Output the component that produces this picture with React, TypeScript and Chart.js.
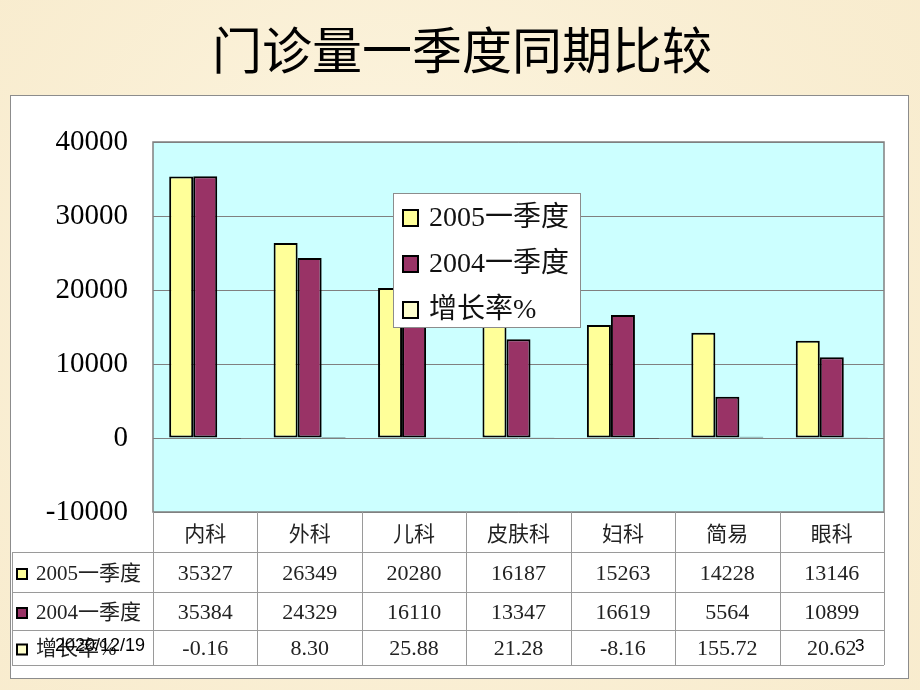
import React, { useEffect, useRef } from "react";
import { Chart, registerables } from "chart.js";

Chart.register(...registerables);

const TITLE = "门诊量一季度同期比较";
const categories = ["内科", "外科", "儿科", "皮肤科", "妇科", "简易", "眼科"];
const seriesLabels = ["2005一季度", "2004一季度", "增长率%"];
const series2005 = [35327, 26349, 20280, 16187, 15263, 14228, 13146];
const series2004 = [35384, 24329, 16110, 13347, 16619, 5564, 10899];
const growthRate = [-0.16, 8.3, 25.88, 21.28, -8.16, 155.72, 20.62];
const yTicks = [-10000, 0, 10000, 20000, 30000, 40000];
const footerDate = "2020/12/19";
const pageNumber = "3";

const seriesColors = ["#FFFF99", "#993366", "#FFFFCC"];

const CJK = '"Noto Sans CJK SC", sans-serif';
const SERIF = '"Liberation Serif", "DejaVu Serif", serif';
const MIXED = '"Liberation Serif", "Noto Sans CJK SC", serif';

const decorPlugin = {
  id: "decor",
  beforeDraw(chart: any) {
    const ctx = chart.ctx as CanvasRenderingContext2D;
    const W = chart.width;
    const H = chart.height;
    ctx.save();
    // parchment background
    ctx.fillStyle = "#F9EED2";
    ctx.fillRect(0, 0, W, H);
    const g = ctx.createRadialGradient(W * 0.4, H * 0.35, 60, W * 0.5, H * 0.5, W * 0.75);
    g.addColorStop(0, "rgba(255,250,235,0.5)");
    g.addColorStop(1, "rgba(245,228,192,0.3)");
    ctx.fillStyle = g;
    ctx.fillRect(0, 0, W, H);
    // white panel
    ctx.fillStyle = "#FFFFFF";
    ctx.fillRect(10, 95, 898, 583);
    ctx.strokeStyle = "#8C8C8C";
    ctx.lineWidth = 1;
    ctx.strokeRect(10.5, 95.5, 898, 583);
    // plot background
    const ca = chart.chartArea;
    ctx.fillStyle = "#CCFFFF";
    ctx.fillRect(ca.left, ca.top, ca.right - ca.left, ca.bottom - ca.top);
    // title
    ctx.fillStyle = "#000000";
    ctx.font = `50px ${CJK}`;
    ctx.textAlign = "center";
    ctx.textBaseline = "middle";
    ctx.fillText(TITLE, 462, 50);
    ctx.restore();
  },
  afterDraw(chart: any) {
    const ctx = chart.ctx as CanvasRenderingContext2D;
    const ca = chart.chartArea;
    const xs = chart.scales.x;
    ctx.save();
    // plot border
    ctx.strokeStyle = "#808080";
    ctx.lineWidth = 1.5;
    ctx.strokeRect(ca.left, ca.top, ca.right - ca.left, ca.bottom - ca.top);

    // data table
    const n = categories.length;
    const cw = (ca.right - ca.left) / n;
    const top = ca.bottom;
    const rowY = [top, top + 40, top + 80, top + 118, top + 153];
    const tableLeft = 12;
    ctx.strokeStyle = "#9A9A9A";
    ctx.lineWidth = 1;
    for (let i = 0; i <= n; i++) {
      const x = Math.round(ca.left + i * cw) + 0.5;
      ctx.beginPath();
      ctx.moveTo(x, top);
      ctx.lineTo(x, rowY[4]);
      ctx.stroke();
    }
    for (let r = 1; r <= 4; r++) {
      const y = Math.round(rowY[r]) + 0.5;
      ctx.beginPath();
      ctx.moveTo(tableLeft, y);
      ctx.lineTo(ca.right, y);
      ctx.stroke();
    }
    ctx.beginPath();
    ctx.moveTo(tableLeft + 0.5, rowY[1]);
    ctx.lineTo(tableLeft + 0.5, rowY[4]);
    ctx.stroke();

    ctx.fillStyle = "#222222";
    ctx.textAlign = "center";
    ctx.textBaseline = "middle";
    ctx.font = `21px ${CJK}`;
    categories.forEach((c, i) => {
      ctx.fillText(c, xs.getPixelForValue(i), (rowY[0] + rowY[1]) / 2 + 1);
    });
    const rows = [
      series2005.map((v) => String(v)),
      series2004.map((v) => String(v)),
      growthRate.map((v) => v.toFixed(2)),
    ];
    ctx.font = `22px ${SERIF}`;
    rows.forEach((row, r) => {
      const cy = (rowY[r + 1] + rowY[r + 2]) / 2 + 2;
      row.forEach((t, i) => {
        ctx.fillText(t, xs.getPixelForValue(i), cy);
      });
    });
    // row headers
    ctx.textAlign = "left";
    ctx.font = `21px ${MIXED}`;
    seriesLabels.forEach((lab, r) => {
      const cy = (rowY[r + 1] + rowY[r + 2]) / 2 + 2;
      ctx.fillStyle = seriesColors[r];
      ctx.fillRect(17, cy - 5, 10, 10);
      ctx.strokeStyle = "#000";
      ctx.lineWidth = 2;
      ctx.strokeRect(17, cy - 5, 10, 10);
      ctx.fillStyle = "#222222";
      ctx.fillText(lab, 36, cy);
    });

    // legend
    const lx = 393, ly = 193, lw = 187, lh = 134;
    ctx.fillStyle = "#FFFFFF";
    ctx.fillRect(lx, ly, lw, lh);
    ctx.strokeStyle = "#8C8C8C";
    ctx.lineWidth = 1;
    ctx.strokeRect(lx + 0.5, ly + 0.5, lw, lh);
    ctx.font = `28px ${MIXED}`;
    const ly0 = [218, 264, 310];
    seriesLabels.forEach((lab, r) => {
      ctx.fillStyle = seriesColors[r];
      ctx.fillRect(403, ly0[r] - 8, 15, 16);
      ctx.strokeStyle = "#000";
      ctx.lineWidth = 2;
      ctx.strokeRect(403, ly0[r] - 8, 15, 16);
      ctx.fillStyle = "#111";
      ctx.fillText(lab, 429, ly0[r] + 1);
    });

    // footer overlays
    ctx.fillStyle = "#000";
    ctx.font = `18px "Liberation Sans", Arial, sans-serif`;
    ctx.fillText(footerDate, 55, 646);
    ctx.font = `17px "Liberation Sans", Arial, sans-serif`;
    ctx.fillText(pageNumber, 855, 646);
    ctx.restore();
  },
};

export default function App() {
  const ref = useRef<HTMLCanvasElement | null>(null);
  useEffect(() => {
    if (!ref.current) return;
    const chart = new Chart(ref.current, {
      type: "bar",
      data: {
        labels: categories,
        datasets: [
          { label: seriesLabels[0], data: series2005, backgroundColor: seriesColors[0] },
          { label: seriesLabels[1], data: series2004, backgroundColor: seriesColors[1] },
          { label: seriesLabels[2], data: growthRate, backgroundColor: seriesColors[2] },
        ].map((d) => ({
          ...d,
          borderColor: "#000000",
          borderWidth: 2,
          borderSkipped: false as any,
          categoryPercentage: 0.69,
          barPercentage: 1,
        })),
      },
      options: {
        responsive: false,
        animation: false,
        devicePixelRatio: 1,
        layout: { padding: { left: 10, right: 36, top: 142, bottom: 178 } },
        plugins: {
          legend: { display: false },
          tooltip: { enabled: false },
          title: { display: false },
        },
        scales: {
          x: { display: false },
          y: {
            min: -10000,
            max: 40000,
            afterBuildTicks: (axis: any) => {
              axis.ticks = yTicks.map((v) => ({ value: v }));
            },
            afterFit: (axis: any) => {
              axis.width = 143;
            },
            ticks: {
              color: "#000000",
              font: { family: SERIF, size: 29 },
              padding: 25,
              callback: (v: any) => String(v),
            },
            grid: { color: "#808080", lineWidth: 1, drawTicks: false },
            border: { display: false },
          },
        },
      },
      plugins: [decorPlugin],
    } as any);
    return () => chart.destroy();
  }, []);
  return (
    <div style={{ position: "absolute", left: 0, top: 0, width: 920, height: 690 }}>
      <canvas ref={ref} width={920} height={690} style={{ display: "block", width: 920, height: 690 }} />
    </div>
  );
}
